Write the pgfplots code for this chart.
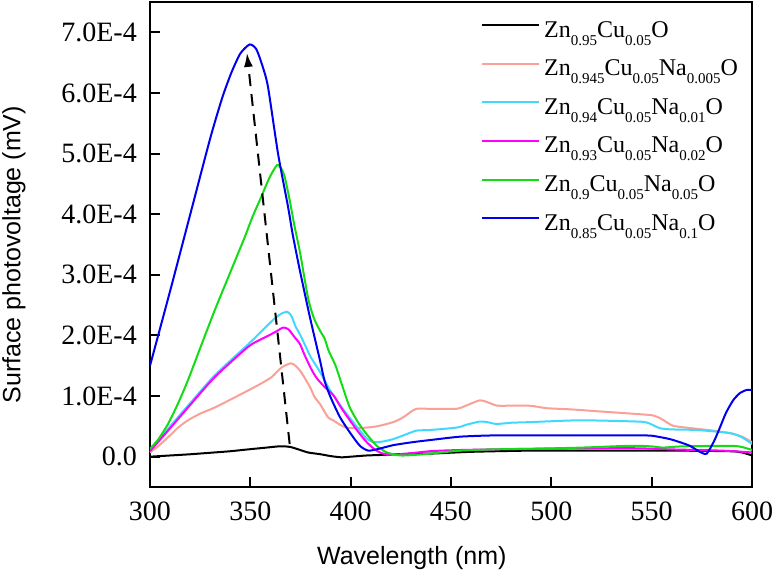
\documentclass[border=0pt]{standalone}
\usepackage{fontspec}
\setmainfont{Liberation Serif}
\newfontfamily\arial{Liberation Sans}
\usepackage{pgfplots}
\pgfplotsset{compat=1.18}
\usetikzlibrary{arrows.meta}
\definecolor{cpink}{RGB}{250,160,150}
\definecolor{ccyan}{RGB}{64,216,255}
\definecolor{cmag}{RGB}{255,0,255}
\definecolor{cgreen}{RGB}{20,220,20}
\definecolor{cblue}{RGB}{0,0,240}
\newcommand\sub[1]{\raisebox{-8pt}{\fontsize{15}{15}\selectfont #1}}
\begin{document}
\begin{tikzpicture}
\useasboundingbox (-150pt,-86pt) rectangle (624pt,487pt);
\begin{axis}[
  at={(0pt,0pt)}, anchor=south west,
  scale only axis, width=602pt, height=485pt,
  xmin=300, xmax=600, ymin=-0.5, ymax=7.5,
  xtick={300,350,400,450,500,550,600},
  xticklabels={300,350,400,450,500,550,600},
  ytick={0,1,2,3,4,5,6,7},
  yticklabels={0.0,1.0E-4,2.0E-4,3.0E-4,4.0E-4,5.0E-4,6.0E-4,7.0E-4},
  tick align=inside, xtick pos=left, ytick pos=left,
  major tick length=10pt,
  major tick style={black, line width=2pt},
  axis line style={line width=2.2pt},
  /pgf/number format/assume math mode=true,
  tick label style={font=\rmfamily\fontsize{28}{28}\selectfont, inner sep=0pt},
  yticklabel style={xshift=-13pt},
  xticklabel style={yshift=-15pt},
  xlabel={Wavelength (nm)},
  ylabel={Surface photovoltage (mV)},
  xlabel style={font=\arial\fontsize{25}{25}\selectfont, at={(axis description cs:0.435,-0.1464)}, anchor=center},
  ylabel style={font=\arial\fontsize{25}{25}\selectfont, at={(axis description cs:-0.2259,0.479)}, anchor=center},
  legend style={draw=none, fill=none, at={(axis description cs:0.5498,0.963)}, anchor=north west,
    inner sep=0pt, font=\fontsize{24}{24}\selectfont, row sep=12.6pt, column sep=4pt,
    nodes={inner sep=0pt, text height=17pt, text depth=9pt}},
  legend cell align=left,
  legend image code/.code={\draw[#1] (0pt,8pt) -- (57pt,8pt);},
  every axis plot/.append style={line width=2pt, smooth, tension=0.4, no markers},
]
\addplot[black] coordinates {
(300,0.00) (310,0.02) (320,0.04) (332.2,0.07) (340,0.09) (348.8,0.12) (358,0.15) (364,0.17) (367.1,0.17) (370,0.16) (374,0.12) (378.7,0.07) (385,0.04) (390,0.01) (395.3,-0.01) (400,0.00) (408,0.02) (416.3,0.03) (430,0.05) (439.5,0.05) (460,0.08) (489.3,0.10) (520,0.10) (560,0.10) (589,0.09) (595,0.07) (600,0.02)};
\addlegendentry{Zn\sub{0.95}Cu\sub{0.05}O}
\addplot[cpink] coordinates {
(300,0.07) (304,0.17) (309,0.32) (314,0.48) (318.9,0.60) (325,0.71) (332.2,0.81) (340,0.94) (348.8,1.09) (355,1.20) (360.5,1.31) (365.5,1.47) (370.1,1.54) (372.5,1.50) (375.4,1.39) (379.7,1.15) (382.1,0.98) (384.7,0.87) (388.7,0.65) (391.3,0.60) (395,0.52) (398,0.48) (403,0.47) (408,0.48) (413,0.50) (418,0.54) (422,0.58) (426.2,0.65) (430,0.74) (432.8,0.79) (439.5,0.79) (452.8,0.79) (458,0.85) (464.4,0.93) (468,0.90) (472,0.85) (474.4,0.84) (489.3,0.84) (497.6,0.80) (510,0.78) (522.6,0.75) (540,0.71) (550.8,0.68) (555,0.62) (560.7,0.51) (570,0.47) (580.7,0.43) (590,0.38) (595,0.33) (600,0.24)};
\addlegendentry{Zn\sub{0.945}Cu\sub{0.05}Na\sub{0.005}O}
\addplot[ccyan] coordinates {
(300,0.08) (309,0.46) (318.9,0.84) (332.2,1.34) (348.8,1.85) (355,2.05) (362.1,2.28) (365.5,2.36) (368.4,2.39) (370.5,2.32) (372.5,2.15) (375,2.00) (380,1.65) (384.7,1.40) (390,1.08) (396.3,0.78) (400.5,0.60) (404.6,0.43) (408,0.30) (411.2,0.24) (416,0.25) (421.2,0.29) (427,0.36) (432.8,0.43) (439.5,0.44) (452.8,0.48) (458,0.53) (464.4,0.58) (468,0.57) (472.7,0.54) (480,0.56) (489.3,0.57) (514.2,0.60) (542.5,0.58) (548,0.56) (554.1,0.47) (560,0.45) (572.4,0.44) (589,0.39) (595,0.32) (600,0.21)};
\addlegendentry{Zn\sub{0.94}Cu\sub{0.05}Na\sub{0.01}O}
\addplot[cmag] coordinates {
(300,0.09) (309,0.43) (318.9,0.81) (332.2,1.31) (348.8,1.81) (355,1.93) (362.1,2.05) (366.3,2.13) (369,2.10) (372.1,1.97) (374.7,1.86) (377,1.68) (380.3,1.45) (383,1.30) (387,1.15) (391.5,1.01) (395,0.82) (399.6,0.60) (404,0.40) (408,0.24) (412,0.12) (416.3,0.05) (424.6,0.04) (439.5,0.09) (454.5,0.11) (489.3,0.13) (539.3,0.14) (560,0.12) (585,0.10) (600,0.07)};
\addlegendentry{Zn\sub{0.93}Cu\sub{0.05}Na\sub{0.02}O}
\addplot[cgreen] coordinates {
(300,0.13) (304,0.28) (309,0.54) (314,0.88) (318.9,1.26) (325,1.79) (332.2,2.41) (340,3.04) (347.2,3.62) (351,3.95) (355.5,4.29) (359.5,4.60) (363.3,4.81) (365.5,4.75) (367.1,4.62) (369.5,4.25) (372.1,3.79) (374.7,3.38) (378.7,2.63) (381.5,2.30) (384.7,2.08) (387,1.95) (389,1.75) (392.5,1.50) (396,1.15) (399.6,0.81) (404,0.55) (408,0.37) (413,0.18) (418,0.07) (424.6,0.02) (432,0.03) (439.5,0.05) (454.5,0.10) (470,0.12) (489.3,0.13) (515,0.15) (539.3,0.18) (550,0.17) (555.8,0.15) (565,0.17) (589,0.18) (595,0.16) (600,0.11)};
\addlegendentry{Zn\sub{0.9}Cu\sub{0.05}Na\sub{0.05}O}
\addplot[cblue] coordinates {
(300,1.50) (310,2.73) (320,3.99) (330,5.25) (336,5.92) (340.5,6.33) (345,6.65) (349.7,6.80) (353,6.72) (356,6.45) (358.8,6.10) (363.8,5.00) (368.8,4.12) (371.2,3.65) (374.7,3.07) (379.7,2.30) (384.7,1.59) (387,1.25) (390,0.98) (394.7,0.65) (399.6,0.40) (404.6,0.18) (408.8,0.10) (414,0.13) (421.2,0.19) (431,0.24) (441,0.28) (454.5,0.33) (470,0.35) (489.3,0.35) (520,0.35) (547.5,0.35) (553,0.33) (559.1,0.29) (564,0.24) (569,0.18) (574,0.08) (577.4,0.05) (581,0.25) (584,0.48) (587,0.72) (590.6,0.93) (594,1.05) (597.3,1.10) (600,1.10)};
\addlegendentry{Zn\sub{0.85}Cu\sub{0.05}Na\sub{0.1}O}
\draw[black, line width=2pt, dash pattern=on 12pt off 8pt, -{Latex[length=14pt,width=9pt]}] (axis cs:369.6,0.21) -- (axis cs:348.3,6.66);
\end{axis}
\end{tikzpicture}
\end{document}
